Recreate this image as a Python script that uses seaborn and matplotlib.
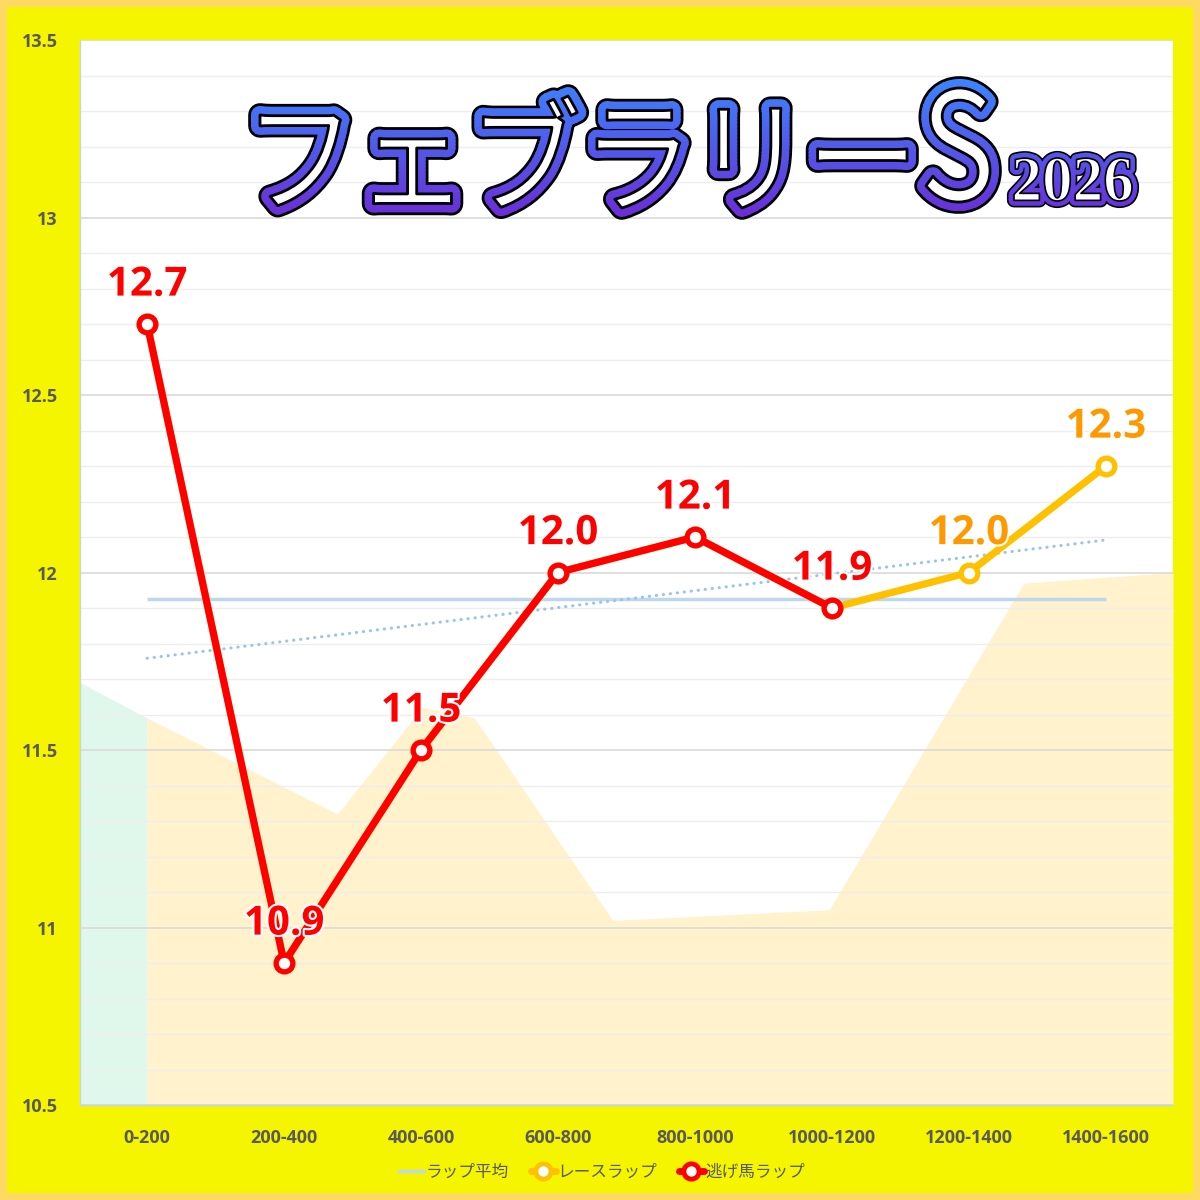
import numpy as np
import matplotlib
matplotlib.use("Agg")
import matplotlib.pyplot as plt
import matplotlib.patheffects as pe
import seaborn as sns
from matplotlib.patches import Rectangle, PathPatch
from matplotlib.lines import Line2D
from matplotlib.textpath import TextPath
from matplotlib.font_manager import FontProperties
from matplotlib.transforms import Affine2D, IdentityTransform, Bbox
from matplotlib.colors import to_rgb

# data
sections = ["0-200", "200-400", "400-600", "600-800", "800-1000",
            "1000-1200", "1200-1400", "1400-1600"]
race_lap = [12.7, 10.9, 11.5, 12.0, 12.1, 11.9, 12.0, 12.3]
leader_lap = [12.7, 10.9, 11.5, 12.0, 12.1, 11.9]

# course profile drawn behind (x in section units)
course_x = [-0.49, 0.0, 1.39, 2.01, 2.39, 3.40, 4.98, 6.40, 7.49]
course_y = [11.69, 11.59, 11.32, 11.62, 11.59, 11.02, 11.05, 11.97, 12.00]

title_main = "フェブラリー"
title_s = "S"
title_year = "2026"

sns.set_theme(style="white")
plt.rcParams['font.family'] = ['Noto Sans CJK JP', 'DejaVu Sans']

W = 1200
fig = plt.figure(figsize=(12, 12), dpi=100)
fig.patch.set_facecolor('#FFD966')
fig.add_artist(Rectangle((7 / W, 7 / W), 1186 / W, 1186 / W, transform=fig.transFigure,
                         facecolor='#F5F500', edgecolor='none', zorder=-5))

ax = fig.add_axes([80 / W, 95 / W, 1093 / W, 1065 / W])
ax.set_facecolor('white')

x = np.arange(len(sections))

# background course area
cx = np.array(course_x)
cy = np.array(course_y)
ax.fill_between(cx[cx <= 0], cy[cx <= 0], 10.5, color='#E0F8EC', lw=0, zorder=1)
ax.fill_between(cx[cx >= 0], cy[cx >= 0], 10.5, color='#FFF2CC', lw=0, zorder=1)

# average and trend
avg = np.mean(race_lap)
ax.hlines(avg, 0, len(sections) - 1, color='#BDD7EE', lw=2.5, zorder=2)
k, b = np.polyfit(x, race_lap, 1)
ax.plot([0, 7], [b, b + 7 * k], color='#9DC3E6', lw=2.2, linestyle=(0, (0.1, 2.2)),
        dash_capstyle='round', zorder=2)

sns.lineplot(x=x, y=race_lap, ax=ax, color='#FFC000', lw=5.2, marker='o', ms=12,
             mfc='white', mec='#FFC000', mew=3.8, zorder=3)
sns.lineplot(x=x[:len(leader_lap)], y=leader_lap, ax=ax, color='#FF0000', lw=5.2, marker='o',
             ms=12, mfc='white', mec='#FF0000', mew=3.8, zorder=4)

num_font = ['Open Sans', 'DejaVu Sans']
for i, v in enumerate(race_lap):
    col = '#FF0000' if i < len(leader_lap) else '#FF9900'
    ax.annotate(f"{v:.1f}", (i, v), xytext=(0, 28), textcoords='offset points',
                ha='center', va='center', fontsize=29, fontweight='bold', color=col,
                family=num_font, zorder=6,
                path_effects=[pe.withStroke(linewidth=3, foreground='white')])

ax.set_xlim(-0.49, 7.49)
ax.set_ylim(10.5, 13.5)
ax.set_yticks(np.arange(10.5, 13.51, 0.5))
ax.set_yticklabels(["10.5", "11", "11.5", "12", "12.5", "13", "13.5"])
ax.set_yticks(np.arange(10.5, 13.5, 0.1), minor=True)
ax.set_xticks(x)
ax.set_xticklabels(sections)
ax.set_axisbelow('line')
ax.grid(True, which='major', axis='y', color='#D9D9D9', lw=1.2)
ax.grid(True, which='minor', axis='y', color='#EEEEEE', lw=1)
ax.grid(False, axis='x')
ax.tick_params(axis='both', which='both', length=0, colors='#595959', labelsize=13)
ax.tick_params(axis='x', pad=17)
ax.tick_params(axis='y', pad=16)
for lab in ax.get_xticklabels() + ax.get_yticklabels():
    lab.set_family(num_font)
    lab.set_fontweight('bold')
for s in ['top', 'right']:
    ax.spines[s].set_visible(False)
for s in ['left', 'bottom']:
    ax.spines[s].set_color('#BDD7EE')
    ax.spines[s].set_linewidth(1)

handles = [
    Line2D([], [], color='#BDD7EE', lw=2.5),
    Line2D([], [], color='#FFC000', lw=5, marker='o', ms=11, mfc='white', mec='#FFC000', mew=3.5),
    Line2D([], [], color='#FF0000', lw=5, marker='o', ms=11, mfc='white', mec='#FF0000', mew=3.5),
]
fig.legend(handles, ["ラップ平均", "レースラップ", "逃げ馬ラップ"], loc='center',
           bbox_to_anchor=(0.502, 1 - 1172 / W), ncol=3, frameon=False, fontsize=12,
           handlelength=1.5, handletextpad=0.1, columnspacing=1.3, labelcolor='#595959')

# title with gradient outline
top_c = np.array(to_rgb('#3A86FF'))
bot_c = np.array(to_rgb('#6B2BD4'))
g_top, g_bot = 75, 222


def outlined(s, box, prop, scale=1.0):
    tp = TextPath((0, 0), s, size=100, prop=prop)
    ext = tp.get_extents()
    x0, x1, yt, yb = box
    tr = (Affine2D().translate(-ext.x0, -ext.y0)
          .scale((x1 - x0) / ext.width, (yb - yt) / ext.height)
          .translate(x0, W - yb))
    path = tr.transform_path(tp)
    fig.add_artist(PathPatch(path, transform=IdentityTransform(), facecolor='black',
                             edgecolor='black', lw=17 * scale, joinstyle='round', zorder=10))
    n = 40
    edges = np.linspace(g_top, g_bot, n + 1)
    for j in range(n):
        t = j / (n - 1)
        c = top_c * (1 - t) + bot_c * t
        p = PathPatch(path, transform=IdentityTransform(), facecolor='none',
                      edgecolor=c, lw=13 * scale, joinstyle='round', zorder=11)
        y_a, y_b = edges[j], edges[j + 1]
        if j == 0:
            y_a = 0
        if j == n - 1:
            y_b = W
        p.set_clip_box(Bbox.from_extents(0, W - y_b - 0.5, W, W - y_a + 0.5))
        fig.add_artist(p)
    fig.add_artist(PathPatch(path, transform=IdentityTransform(), facecolor='white',
                             edgecolor='black', lw=2.0 * scale, joinstyle='round', zorder=12))


outlined(title_main, (260, 907, 96, 208), FontProperties(family='Noto Sans CJK JP', weight='regular'))
outlined(title_s, (926, 990, 88, 202), FontProperties(family='Noto Sans CJK JP', weight='regular'))
outlined(title_year, (1014, 1132, 158, 201), FontProperties(family='Liberation Serif', weight='bold'),
         scale=0.6)

fig.savefig("out.png", dpi=100)
